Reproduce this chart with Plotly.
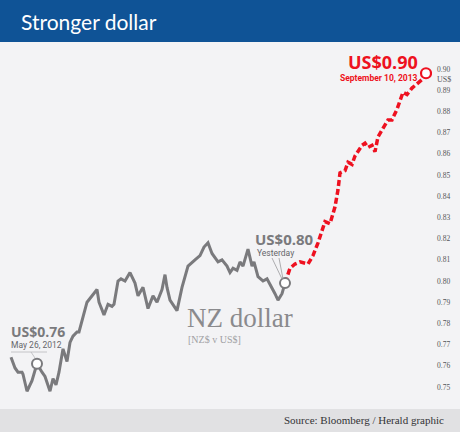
import plotly.graph_objects as go

# ---- data ----
hist_t = [11, 15, 18, 22, 23, 27, 32, 37, 42, 45, 50, 53, 56, 59, 63, 67, 70, 73, 77, 79,
          87, 92, 97, 99, 104, 108, 112, 114, 118, 121, 125, 130, 135, 138, 143, 148, 153, 157,
          162, 165, 167, 170, 177, 182, 188, 195, 200, 204, 208, 212, 215, 218, 222, 227, 230,
          233, 237, 240, 243, 248, 252, 254, 258, 263, 267, 272, 275, 278, 282, 285]
hist_v = [0.764, 0.759, 0.757, 0.757, 0.756, 0.748, 0.753, 0.761, 0.757, 0.755, 0.748, 0.754,
          0.751, 0.757, 0.768, 0.762, 0.771, 0.774, 0.776, 0.776, 0.790, 0.793, 0.796, 0.790,
          0.784, 0.789, 0.788, 0.789, 0.800, 0.801, 0.800, 0.804, 0.799, 0.793, 0.797, 0.787,
          0.793, 0.790, 0.796, 0.803, 0.797, 0.791, 0.786, 0.797, 0.807, 0.810, 0.812, 0.816,
          0.818, 0.813, 0.811, 0.809, 0.810, 0.807, 0.804, 0.806, 0.805, 0.809, 0.807, 0.815,
          0.807, 0.809, 0.802, 0.800, 0.801, 0.797, 0.794, 0.791, 0.794, 0.799]

fcst_t = [285, 290, 295, 300, 308, 313, 318, 322, 325, 330, 335, 338, 340, 345, 348, 352, 355,
          362, 365, 368, 372, 375, 378, 383, 388, 392, 397, 400, 403, 407, 412, 417, 422, 426]
fcst_v = [0.799, 0.806, 0.808, 0.809, 0.808, 0.812, 0.818, 0.824, 0.828, 0.827, 0.835, 0.843,
          0.851, 0.852, 0.856, 0.855, 0.859, 0.864, 0.865, 0.863, 0.864, 0.861, 0.868, 0.872,
          0.876, 0.876, 0.881, 0.885, 0.889, 0.888, 0.891, 0.893, 0.895, 0.898]

tick_vals = [0.75, 0.76, 0.77, 0.78, 0.79, 0.80, 0.81, 0.82, 0.83, 0.84, 0.85, 0.86, 0.87, 0.88, 0.89, 0.90]
tick_text = ["0.75", "0.76", "0.77", "0.78", "0.79", "0.80", "0.81", "0.82", "0.83", "0.84",
             "0.85", "0.86", "0.87", "0.88", "0.89", "0.90"]

may_idx = 7  # May 26, 2012 point

GRAY = "#7a7a7d"
RED = "#ee1120"
W, H = 460, 432

fig = go.Figure()
fig.add_trace(go.Scatter(x=hist_t, y=hist_v, mode="lines",
                         line=dict(color=GRAY, width=3), hoverinfo="skip"))
fig.add_trace(go.Scatter(x=fcst_t, y=fcst_v, mode="lines",
                         line=dict(color=RED, width=3.5, dash="6px,3px"), hoverinfo="skip"))
fig.add_trace(go.Scatter(x=[hist_t[may_idx], hist_t[-1]], y=[hist_v[may_idx], hist_v[-1]],
                         mode="markers",
                         marker=dict(size=10, color="white", line=dict(color=GRAY, width=2)),
                         hoverinfo="skip"))
fig.add_trace(go.Scatter(x=[fcst_t[-1]], y=[fcst_v[-1]], mode="markers",
                         marker=dict(size=10, color="white", line=dict(color=RED, width=2.2)),
                         hoverinfo="skip"))

y0 = 0.80 - 151 / 2120
y1 = 0.80 + 281 / 2120

def py(p):  # pixel from top -> paper y
    return 1 - p / H

def px(p):
    return p / W

shapes = [
    dict(type="rect", xref="paper", yref="paper", x0=0, x1=1, y0=py(42), y1=1,
         fillcolor="#0f5396", line_width=0, layer="below"),
    dict(type="rect", xref="paper", yref="paper", x0=0, x1=1, y0=0, y1=py(409),
         fillcolor="#e1e1e3", line_width=0, layer="below"),
    # leader lines
    dict(type="line", xref="paper", yref="paper", x0=px(11), x1=px(47), y0=py(352), y1=py(352),
         line=dict(color="#b8b8bb", width=0.8)),
    dict(type="line", xref="paper", yref="paper", x0=px(31), x1=px(35), y0=py(352), y1=py(358),
         line=dict(color="#b8b8bb", width=0.8)),
    dict(type="line", xref="paper", yref="paper", x0=px(272), x1=px(282), y0=py(258), y1=py(279),
         line=dict(color="#9a9a9d", width=0.8)),
    dict(type="line", xref="paper", yref="paper", x0=px(279), x1=px(283), y0=py(258), y1=py(279),
         line=dict(color="#9a9a9d", width=0.8)),
]

SANS = "Open Sans, sans-serif"
SERIF = "Liberation Serif, serif"

def ann(text, x, y, size, color, family=SANS, xanchor="left"):
    return dict(text=text, xref="paper", yref="paper", x=px(x), y=py(y), showarrow=False,
                xanchor=xanchor, yanchor="middle", borderpad=0,
                font=dict(size=size, color=color, family=family))

annotations = [
    ann("Stronger dollar", 20, 21, 21, "white", family="Lato, sans-serif"),
    ann("<b>US$0.90</b>", 419, 62, 18, RED, xanchor="right"),
    ann("<b>September 10, 2013</b>", 419, 78, 8.5, RED, family="Roboto, sans-serif", xanchor="right"),
    ann("US$", 436, 80, 8, "#555558", family=SERIF),
    ann("<b>US$0.80</b>", 254, 239, 15, GRAY),
    ann("Yesterday", 256, 253, 8.5, "#66666a", family="Roboto, sans-serif"),
    ann("<b>US$0.76</b>", 10, 331, 14, GRAY),
    ann("May 26, 2012", 10, 345, 8.5, "#66666a", family="Roboto, sans-serif"),
    ann("NZ dollar", 186, 318, 27, "#8a8a8d", family=SERIF),
    ann("[NZ$ v US$]", 187, 339, 10, "#a0a0a3", family=SERIF),
    ann("Source: Bloomberg / Herald graphic", 445, 420, 11, "#333336", family=SERIF, xanchor="right"),
]

fig.update_layout(
    width=W, height=H,
    margin=dict(l=0, r=0, t=0, b=0),
    paper_bgcolor="#f3f3f5", plot_bgcolor="rgba(0,0,0,0)",
    showlegend=False,
    xaxis=dict(domain=[0, 432 / W], range=[0, 432], visible=False, fixedrange=True),
    yaxis=dict(range=[y0, y1], side="right", tickvals=tick_vals, ticktext=tick_text,
               showgrid=False, zeroline=False, showline=False, ticks="",
               ticklabelstandoff=4,
               tickfont=dict(size=7.5, color="#555558", family=SERIF), fixedrange=True),
    shapes=shapes, annotations=annotations,
)

fig.write_html("out.html")
